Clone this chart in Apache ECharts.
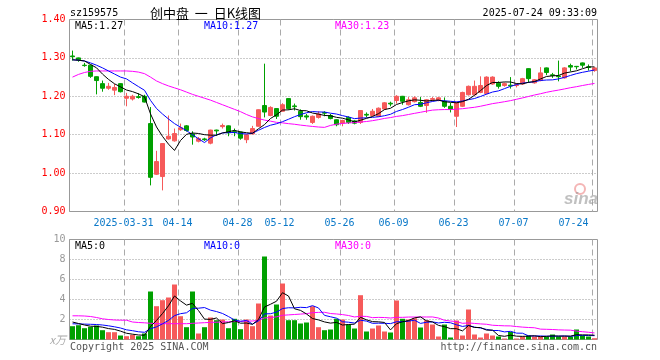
<!DOCTYPE html>
<html><head><meta charset="utf-8">
<script src="https://cdn.jsdelivr.net/npm/echarts@6/dist/echarts.min.js"></script>
<style>html,body{margin:0;padding:0;background:#fff}#c{width:660px;height:360px}</style>
</head><body><div id="c"></div>
<script>
const dates = ['2025-03-18','2025-03-19','2025-03-20','2025-03-21','2025-03-24','2025-03-25','2025-03-26','2025-03-27','2025-03-28','2025-03-31',
'2025-04-01','2025-04-02','2025-04-03','2025-04-07','2025-04-08','2025-04-09','2025-04-10','2025-04-11','2025-04-14','2025-04-15',
'2025-04-16','2025-04-17','2025-04-18','2025-04-21','2025-04-22','2025-04-23','2025-04-24','2025-04-25','2025-04-28','2025-04-29',
'2025-04-30','2025-05-06','2025-05-07','2025-05-08','2025-05-09','2025-05-12','2025-05-13','2025-05-14','2025-05-15','2025-05-16',
'2025-05-19','2025-05-20','2025-05-21','2025-05-22','2025-05-23','2025-05-26','2025-05-27','2025-05-28','2025-05-29','2025-05-30',
'2025-06-03','2025-06-04','2025-06-05','2025-06-06','2025-06-09','2025-06-10','2025-06-11','2025-06-12','2025-06-13','2025-06-16',
'2025-06-17','2025-06-18','2025-06-19','2025-06-20','2025-06-23','2025-06-24','2025-06-25','2025-06-26','2025-06-27','2025-06-30',
'2025-07-01','2025-07-02','2025-07-03','2025-07-04','2025-07-07','2025-07-08','2025-07-09','2025-07-10','2025-07-11','2025-07-14',
'2025-07-15','2025-07-16','2025-07-17','2025-07-18','2025-07-21','2025-07-22','2025-07-23','2025-07-24'];
const tickDates = ['2025-03-31','2025-04-14','2025-04-28','2025-05-12','2025-05-26','2025-06-09','2025-06-23','2025-07-07','2025-07-24'];
const opens = [1.305,1.300,1.281,1.281,1.251,1.233,1.221,1.216,1.233,1.195,
1.193,1.199,1.200,1.129,0.997,0.991,1.089,1.084,1.113,1.123,
1.102,1.083,1.089,1.078,1.112,1.121,1.123,1.108,1.107,1.087,
1.102,1.122,1.176,1.150,1.168,1.161,1.194,1.175,1.161,1.149,
1.132,1.145,1.158,1.150,1.139,1.130,1.145,1.136,1.132,1.153,
1.150,1.148,1.167,1.182,1.189,1.200,1.178,1.186,1.184,1.176,
1.192,1.190,1.187,1.174,1.148,1.174,1.204,1.204,1.210,1.207,
1.232,1.234,1.228,1.229,1.228,1.232,1.272,1.235,1.241,1.274,
1.256,1.253,1.248,1.280,1.278,1.287,1.277,1.267];
const closes = [1.303,1.295,1.280,1.252,1.241,1.221,1.226,1.223,1.212,1.200,
1.200,1.197,1.185,0.989,1.030,1.077,1.096,1.103,1.118,1.111,
1.094,1.090,1.087,1.112,1.110,1.124,1.105,1.106,1.091,1.100,
1.116,1.165,1.159,1.171,1.148,1.178,1.168,1.173,1.147,1.146,
1.148,1.154,1.156,1.142,1.126,1.137,1.132,1.130,1.163,1.151,
1.161,1.169,1.183,1.180,1.200,1.187,1.191,1.196,1.174,1.191,
1.194,1.196,1.174,1.167,1.184,1.210,1.226,1.226,1.228,1.250,
1.250,1.226,1.233,1.227,1.230,1.246,1.246,1.243,1.261,1.262,
1.254,1.251,1.274,1.276,1.277,1.281,1.275,1.274];
const lows = [1.293,1.290,1.277,1.248,1.205,1.212,1.217,1.203,1.210,1.174,
1.189,1.194,1.184,0.968,0.995,0.955,1.087,1.082,1.110,1.108,
1.074,1.080,1.084,1.075,1.097,1.116,1.096,1.096,1.087,1.078,
1.101,1.121,1.145,1.148,1.141,1.160,1.165,1.163,1.139,1.139,
1.128,1.142,1.148,1.140,1.122,1.122,1.128,1.127,1.128,1.145,
1.148,1.146,1.165,1.174,1.181,1.178,1.176,1.184,1.172,1.157,
1.187,1.187,1.170,1.158,1.120,1.172,1.202,1.202,1.208,1.205,
1.230,1.220,1.225,1.220,1.223,1.230,1.235,1.233,1.239,1.255,
1.248,1.239,1.246,1.265,1.270,1.274,1.267,1.264];
const highs = [1.319,1.301,1.287,1.282,1.252,1.241,1.235,1.232,1.234,1.209,
1.204,1.208,1.204,1.172,1.058,1.078,1.150,1.116,1.129,1.125,
1.109,1.094,1.092,1.113,1.113,1.129,1.124,1.116,1.108,1.101,
1.123,1.166,1.285,1.174,1.169,1.182,1.195,1.181,1.166,1.154,
1.150,1.161,1.161,1.154,1.140,1.139,1.148,1.138,1.164,1.158,
1.167,1.171,1.185,1.186,1.203,1.201,1.198,1.200,1.198,1.193,
1.198,1.198,1.197,1.183,1.186,1.212,1.228,1.241,1.252,1.252,
1.252,1.239,1.236,1.250,1.234,1.248,1.273,1.245,1.276,1.275,
1.261,1.293,1.276,1.285,1.279,1.288,1.283,1.276];
const volumes = [1.33,1.43,1.13,1.27,1.40,0.93,0.73,0.73,0.40,0.33,
0.47,0.33,0.60,4.80,3.33,3.93,4.20,5.50,2.33,1.23,
4.80,0.60,1.23,2.20,1.93,2.00,1.13,2.07,1.03,2.00,
1.33,3.60,8.30,2.40,3.50,5.60,1.93,1.93,1.60,1.70,
3.33,1.23,0.93,1.00,2.07,2.00,1.50,1.10,4.43,0.80,
1.10,1.40,0.80,0.70,3.90,2.07,2.00,2.13,1.20,1.93,
1.50,0.30,1.50,0.20,1.90,0.40,3.00,0.50,0.20,0.60,
0.40,0.30,0.10,0.77,0.10,0.30,0.40,0.30,0.30,0.30,
0.50,0.30,0.30,0.30,1.00,0.40,0.30,0.13];
// moving-average values for the days whose window starts before the chart
const ma5Head = [1.295,1.294,1.292,1.283];
const ma10Head = [1.295,1.294,1.292,1.287,1.281,1.274,1.266,1.258,1.250];
const ma30Head = [1.250,1.257,1.262,1.265,1.266,1.266,1.266,1.266,1.266,1.266,1.265,1.263,1.259,1.250,1.240,1.233,1.227,1.222,1.217,1.211,1.205,1.200,1.195,1.190,1.184,1.178,1.172,1.166,1.160];
const vma5Head = [1.75,1.60,1.45,1.33];
const vma10Head = [1.57,1.56,1.54,1.52,1.50,1.45,1.37,1.27,1.15];
const vma30Head = [2.37,2.37,2.35,2.30,2.20,2.07,2.00,1.95,1.93,1.93,1.75,1.70,1.67,1.62,1.58,1.58,1.58,1.58,1.58,1.58,1.62,1.65,1.68,1.71,1.73,1.75,1.77,1.79,1.81];
const legendPrice = ['MA5:1.27','MA10:1.27','MA30:1.23'];
const legendVol = ['MA5:0','MA10:0','MA30:0'];

function ma(src, n, head){
  return src.map((v,i)=> i < n-1 ? head[i] : +(src.slice(i-n+1,i+1).reduce((a,b)=>a+b,0)/n).toFixed(4));
}
const RED='#f65a5a', GREEN='#00a000', MONO='"DejaVu Sans Mono", monospace';
const candle = dates.map((d,i)=>[opens[i],closes[i],lows[i],highs[i]]);
const isTick = (i, v) => tickDates.indexOf(v) >= 0;
const gridStyle = {show:true, borderColor:'#999', borderWidth:1, backgroundColor:'rgba(0,0,0,0)', left:69.5, width:528};
const dotted = {show:true, lineStyle:{color:'#999', type:[1,2], width:1}};
const tickIdx = tickDates.map(d => dates.indexOf(d));

// vertical dashed date lines, placed by the category axis (left edge of the tick day's band)
function vline(params, api){
  const cs = params.coordSys;
  const x = Math.round(api.coord([api.value(0), api.value(1)])[0] - api.size([1,0])[0]/2) + 0.5;
  return {type:'line', shape:{x1:x, y1:cs.y, x2:x, y2:cs.y+cs.height},
          style:{stroke:'#aaa', lineWidth:1, lineDash:[6,4]}};
}

function txt(x,y,t,fill,align,font){
  return {type:'text', x:x, y:y, z:100, silent:true, style:{text:t, fill:fill, align:align||'left', verticalAlign:'middle', font:font||('10px '+MONO)}};
}

const chart = echarts.init(document.getElementById('c'));
chart.setOption({
  animation:false,
  grid:[Object.assign({top:19.5, height:192}, gridStyle), Object.assign({top:239.5, height:100}, gridStyle)],
  xAxis:[
    {type:'category', gridIndex:0, data:dates, boundaryGap:true,
     axisLine:{show:false}, axisTick:{show:false},
     axisLabel:{interval:isTick, color:'#0a78c8', fontFamily:MONO, fontSize:10, margin:7, padding:[0,6,0,0],
       alignMaxLabel:'right',
       formatter:(v)=> v===tickDates[0] ? v : v.slice(5)},
     splitLine:{show:false}},
    {type:'category', gridIndex:1, data:dates, boundaryGap:true,
     axisLine:{show:false}, axisTick:{show:false}, axisLabel:{show:false}, splitLine:{show:false}}
  ],
  yAxis:[
    {type:'value', gridIndex:0, min:0.9, max:1.4, interval:0.1,
     axisLine:{show:false}, axisTick:{show:false},
     axisLabel:{color:'#ff0000', fontFamily:MONO, fontSize:10, margin:4, formatter:(v)=>v.toFixed(2)},
     splitLine:dotted},
    {type:'value', gridIndex:1, min:0, max:10, interval:2,
     axisLine:{show:false}, axisTick:{show:false},
     axisLabel:{color:'#999', fontFamily:MONO, fontSize:10, margin:4, formatter:(v)=> v===0 ? '' : String(v)},
     splitLine:dotted}
  ],
  series:[
    {type:'custom', xAxisIndex:0, yAxisIndex:0, z:1, silent:true, renderItem:vline, data:tickIdx.map(i=>[i,1.0])},
    {type:'custom', xAxisIndex:1, yAxisIndex:1, z:1, silent:true, renderItem:vline, data:tickIdx.map(i=>[i,0])},
    {type:'candlestick', xAxisIndex:0, yAxisIndex:0, data:candle, barWidth:4,
     itemStyle:{color:RED, color0:GREEN, borderColor:RED, borderColor0:GREEN, borderWidth:1}},
    {type:'line', xAxisIndex:0, yAxisIndex:0, data:ma(closes,30,ma30Head), showSymbol:false, lineStyle:{color:'#ff00ff', width:1}},
    {type:'line', xAxisIndex:0, yAxisIndex:0, data:ma(closes,10,ma10Head), showSymbol:false, lineStyle:{color:'#0000ff', width:1}},
    {type:'line', xAxisIndex:0, yAxisIndex:0, data:ma(closes,5,ma5Head), showSymbol:false, lineStyle:{color:'#000000', width:1}},
    {type:'bar', xAxisIndex:1, yAxisIndex:1, data:volumes, barWidth:5,
     itemStyle:{color:(p)=> closes[p.dataIndex] >= opens[p.dataIndex] ? RED : GREEN}},
    {type:'line', xAxisIndex:1, yAxisIndex:1, data:ma(volumes,30,vma30Head), showSymbol:false, lineStyle:{color:'#ff00ff', width:1}},
    {type:'line', xAxisIndex:1, yAxisIndex:1, data:ma(volumes,10,vma10Head), showSymbol:false, lineStyle:{color:'#0000ff', width:1}},
    {type:'line', xAxisIndex:1, yAxisIndex:1, data:ma(volumes,5,vma5Head), showSymbol:false, lineStyle:{color:'#000000', width:1}}
  ],
  graphic:[
    txt(70,13,'sz159575','#000'),
    txt(150,13,'创中盘  一  日K线图','#000','left','13px "Noto Sans CJK SC"'),
    txt(597,13,'2025-07-24 09:33:09','#000','right'),
    txt(75,26,legendPrice[0],'#000'),
    txt(204,26,legendPrice[1],'#0000ff'),
    txt(335,26,legendPrice[2],'#ff00ff'),
    txt(75,246,legendVol[0],'#000'),
    txt(204,246,legendVol[1],'#0000ff'),
    txt(335,246,legendVol[2],'#ff00ff'),
    txt(66,340,'x万','#aaa','right','italic 11px "Noto Sans CJK SC"'),
    txt(70,347,'Copyright 2025 SINA.COM','#555'),
    txt(597,347,'http://finance.sina.com.cn','#555','right'),
    {type:'circle', z:90, silent:true, shape:{cx:580, cy:189, r:5}, style:{fill:'none', stroke:'rgba(230,90,90,0.45)', lineWidth:2}},
    txt(581,199,'sina','rgba(150,150,150,0.6)','center','italic bold 17px "Liberation Sans"')
  ]
});
</script></body></html>
